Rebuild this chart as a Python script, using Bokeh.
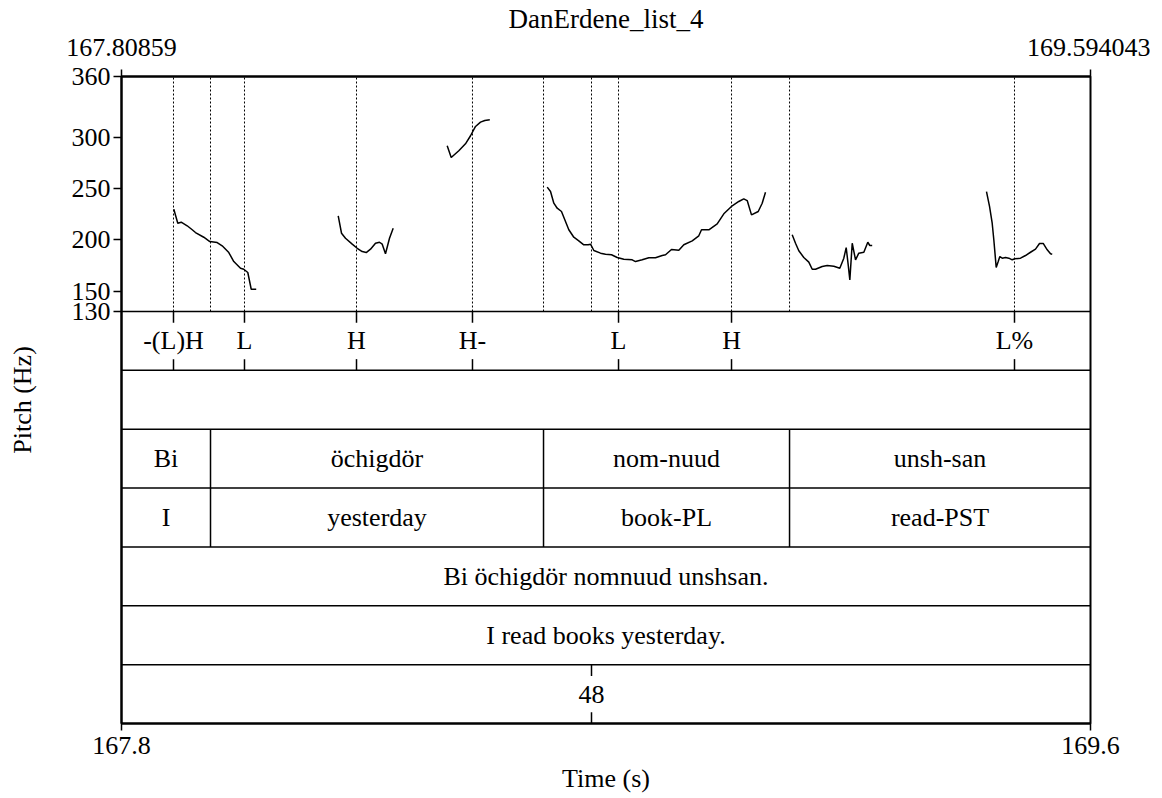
from bokeh.plotting import figure
from bokeh.models import Range1d, LinearAxis, FixedTicker, Span
from bokeh.core.properties import value
from bokeh.embed import file_html
from bokeh.resources import INLINE

# ---------------- data ----------------
title_text = "DanErdene_list_4"
t_start, t_end = 167.80859, 169.594043
top_labels = ["167.80859", "169.594043"]
bottom_labels = ["167.8", "169.6"]
pitch_ticks = [130, 150, 200, 250, 300, 360]
f_min, f_max = 130, 360

tone_times = [167.9044, 168.0352, 168.2416, 168.4553, 168.7244, 168.9326, 169.4540]
tone_labels = ["-(L)H", "L", "H", "H-", "L", "H", "L%"]

word_bounds = [167.9726, 168.5862, 169.0395]
words = ["Bi", "öchigdör", "nom-nuud", "unsh-san"]
glosses = ["I", "yesterday", "book-PL", "read-PST"]
sentence = ["Bi öchigdör nomnuud unshsan."]
translation = ["I read books yesterday."]
number_times = [168.6746]
number_labels = ["48"]

seg1_t = [167.9050, 167.9123, 167.9186, 167.9296, 167.9389, 167.9449, 167.9602, 167.9713, 167.9849,
          167.9941, 168.0063, 168.0155, 168.0279, 168.0339, 168.0413, 168.0476, 168.0568]
seg1_f = [230.1, 216.4, 217.4, 213.9, 210.0, 207.3, 202.7, 198.5, 197.5, 194.3, 187.7, 178.9, 172.4,
          171.4, 168.2, 151.8, 151.8]

seg2_t = [168.2079, 168.2140, 168.2213, 168.2337, 168.2429, 168.2521, 168.2595, 168.2674, 168.2766,
          168.2840, 168.2890, 168.2950, 168.3024, 168.3092]
seg2_f = [223.7, 206.6, 201.7, 195.9, 191.9, 188.7, 187.7, 191.0, 196.8, 197.8, 195.9, 186.5, 201.7, 211.5]

seg3_t = [168.4087, 168.4161, 168.4301, 168.4424, 168.4517, 168.4609, 168.4701, 168.4780, 168.4872]
seg3_f = [292.2, 280.7, 287.3, 294.1, 302.0, 311.1, 315.3, 316.9, 317.6]

seg4_t = [168.5930, 168.5991, 168.6052, 168.6114, 168.6193, 168.6267, 168.6328, 168.6420, 168.6512,
          168.6604, 168.6685, 168.6728, 168.6789, 168.6912, 168.7004, 168.7115, 168.7220, 168.7341,
          168.7496, 168.7557, 168.7680, 168.7802, 168.7925, 168.8049, 168.8110, 168.8220, 168.8355,
          168.8447, 168.8602, 168.8723, 168.8773, 168.8908, 168.9062, 168.9184, 168.9339, 168.9460,
          168.9552, 168.9615, 168.9694, 168.9818, 168.9891, 168.9952]
seg4_f = [251.7, 247.4, 236.0, 231.1, 227.9, 218.1, 210.0, 202.7, 199.2, 195.3, 195.3, 195.9, 189.7,
          187.1, 186.1, 185.5, 182.9, 181.2, 180.6, 178.9, 180.6, 182.6, 182.6, 184.8, 185.5, 190.7,
          190.0, 195.3, 199.2, 204.1, 210.0, 210.0, 215.8, 225.6, 233.5, 237.7, 240.3, 238.6, 224.6,
          227.9, 236.0, 246.8]

seg5_t = [169.0444, 169.0505, 169.0566, 169.0658, 169.0750, 169.0813, 169.0874, 169.0997, 169.1089,
          169.1211, 169.1321, 169.1395, 169.1439, 169.1476, 169.1506, 169.1550, 169.1611, 169.1671,
          169.1764, 169.1837, 169.1874, 169.1918]
seg5_f = [205.1, 196.8, 189.4, 182.9, 178.3, 171.4, 171.4, 174.0, 175.0, 174.3, 172.4, 182.2, 192.6,
          175.7, 161.0, 196.8, 180.6, 187.1, 188.0, 197.8, 194.6, 194.6]

seg6_t = [169.4024, 169.4080, 169.4129, 169.4159, 169.4203, 169.4240, 169.4270, 169.4314, 169.4375,
          169.4435, 169.4498, 169.4546, 169.4651, 169.4743, 169.4835, 169.4927, 169.5001, 169.5069,
          169.5143, 169.5204, 169.5235]
seg6_f = [247.4, 232.8, 216.4, 200.2, 173.1, 178.9, 183.8, 182.2, 182.9, 182.2, 180.6, 181.6, 182.2,
          184.8, 188.0, 191.0, 196.6, 196.6, 190.4, 186.5, 186.1]

pitch_t = [seg1_t, seg2_t, seg3_t, seg4_t, seg5_t, seg6_t]
pitch_f = [seg1_f, seg2_f, seg3_f, seg4_f, seg5_f, seg6_f]

# ---------------- layout constants ----------------
N_TIERS = 7
TIER_H = 57.6          # tier height in pitch-axis units
TICK = 11.0            # point-tier tick length in pitch-axis units
y_bottom = f_min - N_TIERS * TIER_H
FONT = value("Liberation Serif")
FS = "26px"


def tier_top(k):
    return f_min - k * TIER_H


def tier_mid(k):
    return f_min - (k + 0.5) * TIER_H


p = figure(frame_width=969, frame_height=647,
           min_border_left=121, min_border_right=60, min_border_top=75, min_border_bottom=70,
           x_range=Range1d(t_start, t_end), y_range=Range1d(y_bottom, f_max),
           x_axis_location=None, y_axis_location=None,
           output_backend="svg", toolbar_location=None)
p.grid.visible = False
p.background_fill_color = "white"
p.border_fill_color = "white"
p.outline_line_color = "black"
p.outline_line_width = 2
p.outline_line_alpha = 1


def style_axis(ax, tick_len):
    ax.major_tick_out = tick_len
    ax.major_tick_in = 0
    ax.minor_tick_out = 0
    ax.minor_tick_in = 0
    ax.major_tick_line_color = "black"
    ax.major_tick_line_width = 1.5
    ax.axis_line_color = "black"
    ax.axis_line_width = 2
    ax.major_label_text_font = "Liberation Serif"
    ax.major_label_text_font_size = FS
    ax.major_label_text_color = "black"
    ax.axis_label_text_font = "Liberation Serif"
    ax.axis_label_text_font_size = FS
    ax.axis_label_text_font_style = "normal"
    ax.axis_label_text_color = "black"


yax = LinearAxis(ticker=FixedTicker(ticks=pitch_ticks, minor_ticks=[]), axis_label="Pitch (Hz)")
style_axis(yax, 8)
yax.major_label_standoff = 3
yax.axis_label_standoff = 32
p.add_layout(yax, "left")

edge_ticks = [t_start, t_end]
xtop = LinearAxis(ticker=FixedTicker(ticks=edge_ticks, minor_ticks=[]),
                  major_label_overrides={t: s for t, s in zip(edge_ticks, top_labels)},
                  axis_label=title_text)
style_axis(xtop, 7)
xtop.major_label_standoff = 14
xtop.axis_label_text_font_size = "27px"
xtop.axis_label_standoff = 2
p.add_layout(xtop, "above")

xbot = LinearAxis(ticker=FixedTicker(ticks=edge_ticks, minor_ticks=[]),
                  major_label_overrides={t: s for t, s in zip(edge_ticks, bottom_labels)},
                  axis_label="Time (s)")
style_axis(xbot, 7)
xbot.major_label_standoff = 6
xbot.axis_label_standoff = 7
p.add_layout(xbot, "below")

# tier separator lines
for k in range(N_TIERS):
    p.add_layout(Span(location=tier_top(k), dimension="width", line_color="black", line_width=1.5))

# dotted marks in pitch area
all_marks = tone_times + word_bounds + number_times
p.segment(x0=all_marks, x1=all_marks, y0=[f_min] * len(all_marks), y1=[f_max] * len(all_marks),
          line_color="black", line_width=1, line_dash="2 2")

# pitch contour
p.multi_line(xs=pitch_t, ys=pitch_f, line_color="black", line_width=1.5)


def point_tier(k, times, labels):
    n = len(times)
    p.segment(x0=times, x1=times, y0=[tier_top(k)] * n, y1=[tier_top(k) - TICK] * n,
              line_color="black", line_width=1.5)
    p.segment(x0=times, x1=times, y0=[tier_top(k + 1)] * n, y1=[tier_top(k + 1) + TICK] * n,
              line_color="black", line_width=1.5)
    p.text(x=times, y=[tier_mid(k)] * n, text=labels, text_align="center", text_baseline="middle",
           text_font=FONT, text_font_size=FS, text_color="black")


def interval_tier(k, bounds, labels):
    edges = [t_start] + bounds + [t_end]
    nb = len(bounds)
    if nb:
        p.segment(x0=bounds, x1=bounds, y0=[tier_top(k)] * nb, y1=[tier_top(k + 1)] * nb,
                  line_color="black", line_width=1.5)
    mids = [(a + b) / 2 for a, b in zip(edges[:-1], edges[1:])]
    p.text(x=mids, y=[tier_mid(k)] * len(mids), text=labels, text_align="center",
           text_baseline="middle", text_font=FONT, text_font_size=FS, text_color="black")


point_tier(0, tone_times, tone_labels)
interval_tier(2, word_bounds, words)
interval_tier(3, word_bounds, glosses)
interval_tier(4, [], sentence)
interval_tier(5, [], translation)
point_tier(6, number_times, number_labels)

open("out.html", "w").write(file_html(p, INLINE))
